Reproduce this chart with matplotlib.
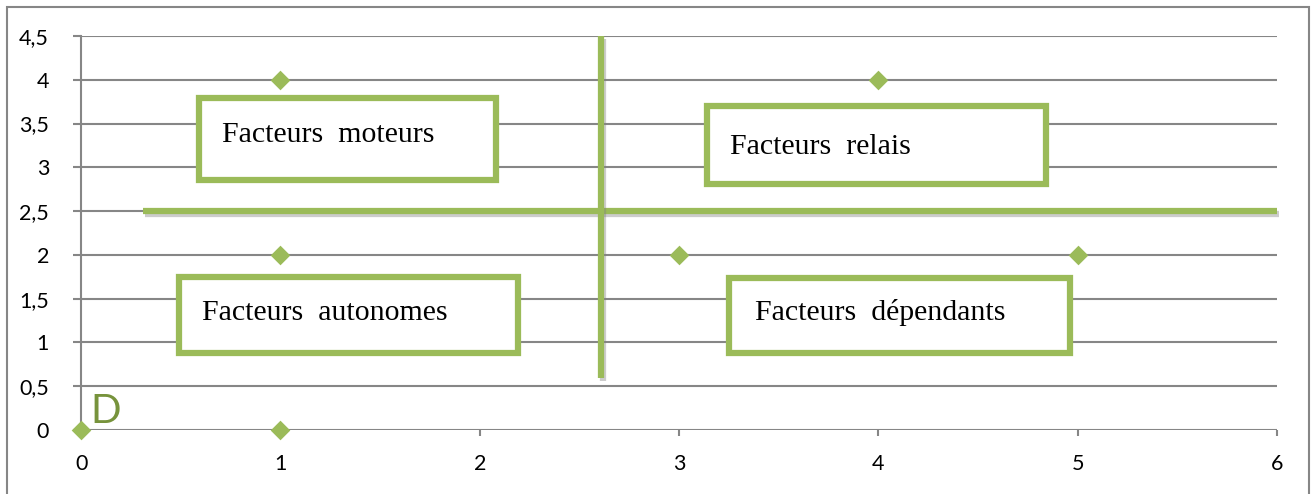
import matplotlib
matplotlib.use("Agg")
import matplotlib.pyplot as plt
import matplotlib.patheffects as pe
from matplotlib.patches import Rectangle

# Data
x_vals = [0, 1, 1, 1, 3, 4, 5]
y_vals = [0, 0, 2, 4, 2, 4, 2]
x_ticks = [0, 1, 2, 3, 4, 5, 6]
y_ticks = [0, 0.5, 1, 1.5, 2, 2.5, 3, 3.5, 4, 4.5]
y_tick_labels = ["0", "0,5", "1", "1,5", "2", "2,5", "3", "3,5", "4", "4,5"]
box_labels = ["Facteurs  moteurs", "Facteurs  relais", "Facteurs  autonomes", "Facteurs  dépendants"]
box_x0 = [0.59, 3.14, 0.49, 3.25]
box_x1 = [2.08, 4.84, 2.19, 4.96]
box_y0 = [2.86, 2.81, 0.88, 0.88]
box_y1 = [3.79, 3.70, 1.75, 1.74]
text_x = [0.707, 3.256, 0.607, 3.381]
text_y = [3.29, 3.15, 1.256, 1.256]
h_line_y = 2.5
h_line_x = [0.31, 6.0]
v_line_x = 2.61
v_line_y = [0.59, 4.5]

green = "#9BBB59"
grey = "#868686"

fig = plt.figure(figsize=(13.16, 4.94), dpi=100)
ax = fig.add_axes([0.0616, 0.1296, 0.9088, 0.7975])

# outer frame
fig.patches.append(Rectangle((0.005, -0.01), 0.99, 0.995, transform=fig.transFigure,
                             fill=False, edgecolor=grey, linewidth=1.5))

ax.set_xlim(0, 6)
ax.set_ylim(0, 4.5)
ax.set_yticks(y_ticks)
ax.set_yticklabels(y_tick_labels, fontsize=15.5, family="Lato")
ax.set_xticks(x_ticks)
ax.set_xticklabels([str(t) for t in x_ticks], fontsize=15.5, family="Lato")
ax.yaxis.grid(True, color=grey, linewidth=1.5)
ax.set_axisbelow(True)
for s in ["top", "right", "bottom"]:
    ax.spines[s].set_visible(False)
ax.spines["left"].set_color(grey)
ax.spines["left"].set_linewidth(1.5)
ax.tick_params(axis="y", length=6, width=1.5, color=grey, pad=17)
ax.tick_params(axis="x", length=4, width=1.5, color=grey, pad=13)

shadow = [pe.SimpleLineShadow(offset=(1.5, -2), shadow_color="gray", alpha=0.4), pe.Normal()]
ax.plot(h_line_x, [h_line_y, h_line_y], color=green, linewidth=4.5,
        solid_capstyle="butt", path_effects=shadow, zorder=3, clip_on=False)
ax.plot([v_line_x, v_line_x], v_line_y, color=green, linewidth=4.5,
        solid_capstyle="butt", path_effects=shadow, zorder=3, clip_on=False)

for lab, x0, x1, y0, y1, tx, ty in zip(box_labels, box_x0, box_x1, box_y0, box_y1, text_x, text_y):
    r = Rectangle((x0, y0), x1 - x0, y1 - y0, facecolor="white", edgecolor=green,
                  linewidth=4.5, zorder=4)
    ax.add_patch(r)
    ax.text(tx, ty, lab, fontsize=21.5, family="Liberation Serif",
            va="baseline", ha="left", zorder=5)

ax.scatter(x_vals, y_vals, marker="D", s=100, color=green, zorder=6, clip_on=False, linewidths=0)

ax.text(0.045, 0.08, "D", color="#77933C", fontsize=29, family="Lato",
        va="baseline", ha="left", zorder=6)

fig.savefig("out.png", dpi=100)
